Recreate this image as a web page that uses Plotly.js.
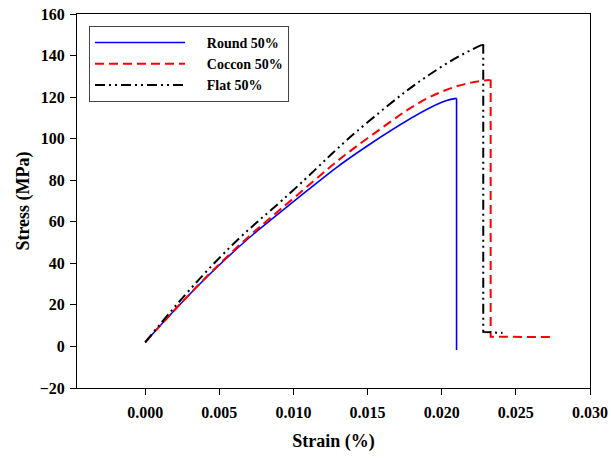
<!DOCTYPE html>
<html>
<head>
<meta charset="utf-8">
<script src="https://cdn.plot.ly/plotly-3.0.1.min.js"></script>
<style>html,body{margin:0;padding:0;background:#fff;}#chart{width:611px;height:461px;}</style>
</head>
<body>
<div id="chart"></div>
<script>
var seriesNames = ["Round 50%", "Coccon 50%", "Flat 50%"];
// loading curve (strain, stress) + failure drop
var roundStrain = [0, 0.005, 0.010, 0.015, 0.020, 0.0210];
var roundStress = [2, 39.2, 69.7, 96.6, 117.5, 119.4];
var roundDropStrain = [0.0210, 0.0210];
var roundDropStress = [119.4, -1.7];

var cocconStrain = [0, 0.005, 0.010, 0.015, 0.020, 0.0232];
var cocconStress = [2, 39.6, 71.3, 100.2, 122.6, 128.2];
var cocconDropStrain = [0.0232, 0.0233, 0.0233, 0.0275];
var cocconDropStress = [128.2, 128.0, 4.7, 4.5];

var flatStrain = [0, 0.005, 0.010, 0.015, 0.020, 0.0227];
var flatStress = [2, 42.6, 75.3, 107.9, 134.7, 145.1];
var flatDropStrain = [0.0227, 0.0228, 0.0228, 0.0241];
var flatDropStress = [145.1, 145.0, 7.0, 6.5];

var xTicks = [0, 0.005, 0.010, 0.015, 0.020, 0.025, 0.030];
var xTickText = ["0.000", "0.005", "0.010", "0.015", "0.020", "0.025", "0.030"];
var yTicks = [-20, 0, 20, 40, 60, 80, 100, 120, 140, 160];

var FONT = "'Liberation Serif', 'Times New Roman', serif";
var blueLine = {color: "#0000ff", width: 1.6};
var redLine = {color: "#ff0000", width: 2, dash: "9px,5px"};
var blackLine = {color: "#000000", width: 2, dash: "10px,4px,2px,4px,2px,4px"};
var pad = "\u2002\u2002\u2009";

var traces = [
  {x: roundStrain, y: roundStress, name: pad + seriesNames[0], mode: "lines", line: Object.assign({shape: "spline", smoothing: 1.3}, blueLine), legendgroup: "r"},
  {x: cocconStrain, y: cocconStress, name: pad + seriesNames[1], mode: "lines", line: Object.assign({shape: "spline", smoothing: 1.3}, redLine), legendgroup: "c"},
  {x: flatStrain, y: flatStress, name: pad + seriesNames[2], mode: "lines", line: Object.assign({shape: "spline", smoothing: 1.3}, blackLine), legendgroup: "f"},
  {x: roundDropStrain, y: roundDropStress, mode: "lines", line: blueLine, legendgroup: "r", showlegend: false},
  {x: cocconDropStrain, y: cocconDropStress, mode: "lines", line: redLine, legendgroup: "c", showlegend: false},
  {x: flatDropStrain, y: flatDropStress, mode: "lines", line: blackLine, legendgroup: "f", showlegend: false}
];

var layout = {
  width: 611, height: 461,
  margin: {l: 77, r: 21, t: 14, b: 73},
  paper_bgcolor: "#fff", plot_bgcolor: "#fff",
  font: {family: FONT, color: "#000", size: 14},
  showlegend: true,
  legend: {
    x: 0.0234, y: 0.968, xanchor: "left", yanchor: "top",
    bordercolor: "#444", borderwidth: 1, bgcolor: "#fff",
    font: {family: FONT, size: 14, color: "#000", weight: "bold"},
    itemwidth: 90, tracegroupgap: 0
  },
  xaxis: {
    range: [-0.0046, 0.030],
    tickvals: xTicks, ticktext: xTickText,
    ticks: "outside", ticklen: 6, tickcolor: "#000", tickwidth: 1,
    showline: true, linecolor: "#000", linewidth: 1, mirror: true,
    showgrid: false, zeroline: false,
    tickfont: {family: FONT, size: 16, weight: "bold"},
    ticklabelstandoff: 4,
    title: {text: "Strain (%)", font: {family: FONT, size: 18, weight: "bold"}, standoff: 14}
  },
  yaxis: {
    range: [-20, 160],
    tickvals: yTicks,
    ticks: "outside", ticklen: 6, tickcolor: "#000", tickwidth: 1,
    showline: true, linecolor: "#000", linewidth: 1, mirror: true,
    showgrid: false, zeroline: false,
    tickfont: {family: FONT, size: 16, weight: "bold"},
    ticklabelstandoff: 2,
    title: {text: "Stress (MPa)", font: {family: FONT, size: 18, weight: "bold"}, standoff: 5}
  }
};

Plotly.newPlot("chart", traces, layout, {displayModeBar: false, staticPlot: true});
</script>
</body>
</html>
